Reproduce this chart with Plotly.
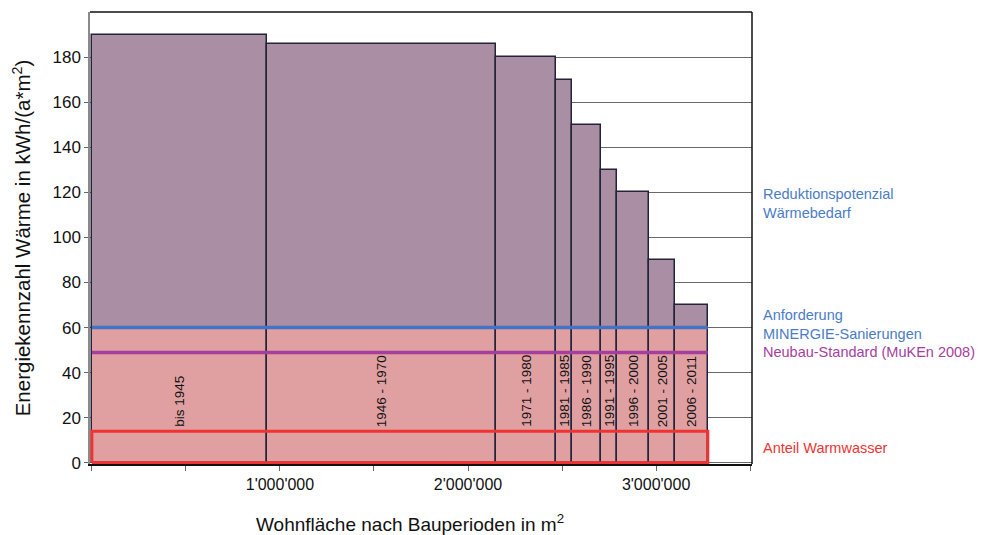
import numpy as np
import plotly.graph_objects as go

# ---- data ----
perioden = ["bis 1945", "1946 - 1970", "1971 - 1980", "1981 - 1985", "1986 - 1990",
            "1991 - 1995", "1996 - 2000", "2001 - 2005", "2006 - 2011"]
wohnflaeche = [929000, 1218000, 319000, 86000, 154000, 85000, 173000, 137000, 174000]
energiekennzahl = [190, 186, 180, 170, 150, 130, 120, 90, 70]
minergie_sanierung = 60
neubau_standard = 49
anteil_warmwasser = 14

x_tickvals = [1000000, 2000000, 3000000]
x_ticktext = ["1'000'000", "2'000'000", "3'000'000"]
y_tickvals = [0, 20, 40, 60, 80, 100, 120, 140, 160, 180]

# ---- derived ----
w = np.array(wohnflaeche, dtype=float)
left = np.concatenate([[0], np.cumsum(w)[:-1]])
centers = left + w / 2
total = float(w.sum())
h = np.array(energiekennzahl, dtype=float)

FONT = "Liberation Sans, Arial, sans-serif"
outline = dict(color="#23233a", width=1.5)
LABEL_Y = 15

fig = go.Figure()
# lower part (pink)
fig.add_trace(go.Bar(x=centers, y=[minergie_sanierung] * len(w), base=0, width=w,
                     marker=dict(color="#e0a0a2", line=outline), hoverinfo="skip",
                     showlegend=False))
# upper part (mauve)
fig.add_trace(go.Bar(x=centers, y=h - minergie_sanierung, base=minergie_sanierung, width=w,
                     marker=dict(color="#aa8fa4", line=outline), hoverinfo="skip",
                     showlegend=False))
# MINERGIE line
fig.add_trace(go.Scatter(x=[0, total], y=[minergie_sanierung] * 2, mode="lines",
                         line=dict(color="#4473c4", width=3.5), showlegend=False,
                         hoverinfo="skip"))
# Neubau line
fig.add_trace(go.Scatter(x=[0, total], y=[neubau_standard] * 2, mode="lines",
                         line=dict(color="#a63e9e", width=3.5), showlegend=False,
                         hoverinfo="skip"))
# Warmwasser rectangle
fig.add_trace(go.Scatter(x=[0, total, total, 0, 0],
                         y=[0, 0, anteil_warmwasser, anteil_warmwasser, 0],
                         mode="lines", line=dict(color="#ee3333", width=3),
                         showlegend=False, hoverinfo="skip"))

# period labels inside bars
for c, p in zip(centers, perioden):
    fig.add_annotation(x=c, y=LABEL_Y, xref="x", yref="y", text=p, textangle=-90,
                       showarrow=False, xanchor="center", yanchor="bottom",
                       font=dict(family=FONT, size=13.5, color="#111111"))

# right-hand annotations
right_notes = [
    ("Reduktionspotenzial<br>Wärmebedarf", 115, "#4a7cc8"),
    ("Anforderung<br>MINERGIE-Sanierungen", 61.5, "#4a7cc8"),
    ("Neubau-Standard (MuKEn 2008)", 49, "#a63e9e"),
    ("Anteil Warmwasser", 6.5, "#ee3333"),
]
for txt, yv, col in right_notes:
    fig.add_annotation(x=1, xshift=9, y=yv, xref="paper", yref="y", text=txt,
                       showarrow=False, xanchor="left", yanchor="middle", align="left",
                       font=dict(family=FONT, size=14.5, color=col))

# x-axis title
fig.add_annotation(x=0.4834, y=-0.13, xref="paper", yref="paper",
                   text="Wohnfläche nach Bauperioden in m<sup>2</sup>",
                   showarrow=False, xanchor="center", yanchor="middle",
                   font=dict(family=FONT, size=19, color="#111111"))

# right and top frame
fig.add_shape(type="line", xref="paper", yref="paper", x0=1, x1=1, y0=0, y1=1,
              line=dict(color="#111111", width=1.5))
fig.add_shape(type="line", xref="paper", yref="paper", x0=0, x1=1, y0=1, y1=1,
              line=dict(color="#111111", width=1.5))

# page body has an 8px default margin -> figure is 975x527 placed at (8, 8)
fig.update_layout(
    width=975, height=527,
    margin=dict(l=82, r=231, t=4, b=71),
    plot_bgcolor="white", paper_bgcolor="white",
    barmode="overlay", bargap=0,
    font=dict(family=FONT, size=17, color="#111111"),
    xaxis=dict(range=[-10000, 3510000], tickvals=x_tickvals, ticktext=x_ticktext,
               ticks="outside", ticklen=5, tickcolor="#666666", showgrid=False,
               minor=dict(ticks="outside", ticklen=5, tickcolor="#666666",
                          tick0=0, dtick=500000, showgrid=False),
               zeroline=False, showline=True, linecolor="#111111", linewidth=1.5,
               tickfont=dict(size=16), automargin=False),
    yaxis=dict(range=[-0.5, 200], tickvals=y_tickvals, ticks="outside", ticklen=4,
               tickcolor="#666666", showgrid=True, gridcolor="#6a6a6a", gridwidth=1,
               zeroline=False, showline=True, linecolor="#8a8a8a", linewidth=1.5,
               title=dict(text="Energiekennzahl Wärme in kWh/(a*m<sup>2</sup>)",
                          font=dict(size=20.5), standoff=16),
               tickfont=dict(size=17), automargin=False),
)

fig.write_html("out.html")
